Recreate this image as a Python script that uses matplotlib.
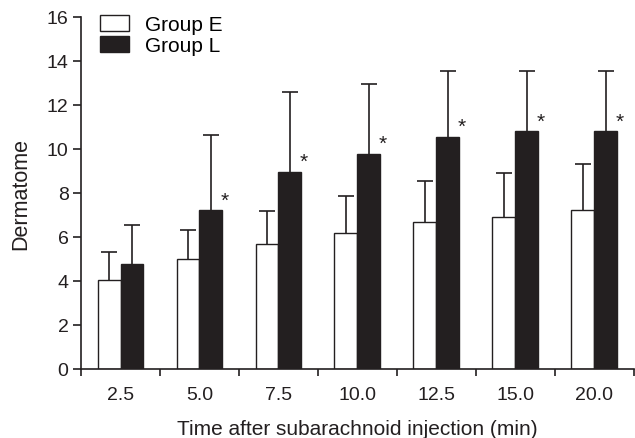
import numpy as np
import matplotlib.pyplot as plt

plt.rcParams['font.family'] = ['Liberation Sans', 'DejaVu Sans']

times = ['2.5', '5.0', '7.5', '10.0', '12.5', '15.0', '20.0']
group_e = [4.05, 5.0, 5.7, 6.17, 6.67, 6.9, 7.23]
group_e_sd = [1.25, 1.32, 1.47, 1.69, 1.88, 2.0, 2.1]
group_l = [4.77, 7.23, 8.97, 9.79, 10.56, 10.83, 10.83]
group_l_sd = [1.78, 3.41, 3.63, 3.16, 3.0, 2.72, 2.72]
significant = [False, True, True, True, True, True, True]

dark = '#231f20'
x = np.arange(len(times))
w = 0.29

fig = plt.figure(figsize=(6.35, 4.39), dpi=100)
ax = fig.add_axes([0.1276, 0.1572, 0.8704, 0.8018])

err_kw = dict(ecolor=dark, elinewidth=1.2, capsize=6, capthick=1.2)
bars_e = ax.bar(x - w / 2, group_e, w, color='white', edgecolor=dark, linewidth=1.0,
                yerr=[np.zeros(len(x)), group_e_sd], error_kw=err_kw, label='Group E', zorder=2)
bars_l = ax.bar(x + w / 2, group_l, w, color=dark, edgecolor=dark, linewidth=1.0,
                yerr=[np.zeros(len(x)), group_l_sd], error_kw=err_kw, label='Group L', zorder=2)

# only the upper cap should be visible
for b in (bars_e, bars_l):
    caps = b.errorbar.lines[1]
    caps[0].set_visible(False)

# asterisks next to the black bars
for i in range(len(x)):
    if significant[i]:
        ax.text(x[i] + w + 0.03, group_l[i] + 0.45, '*', ha='center', va='center',
                fontsize=15, color=dark)

ax.set_xlim(-0.5, len(x) - 0.5)
ax.set_ylim(0, 16)
ax.set_yticks(range(0, 17, 2))
ax.set_xticks(x)
ax.set_xticklabels(times)
ax.set_xticks(np.arange(-0.5, len(x)), minor=True)
ax.tick_params(axis='x', which='major', length=0, pad=12, labelsize=14, colors=dark)
ax.tick_params(axis='x', which='minor', length=5, width=1.2, color=dark)
ax.tick_params(axis='y', length=6, width=1.2, labelsize=14, colors=dark, pad=3)

for s in ['top', 'right']:
    ax.spines[s].set_visible(False)
for s in ['left', 'bottom']:
    ax.spines[s].set_linewidth(1.2)
    ax.spines[s].set_color(dark)

ax.set_xlabel('Time after subarachnoid injection (min)', fontsize=15, color=dark, labelpad=12)
ax.set_ylabel('Dermatome', fontsize=15.5, color=dark, labelpad=11)

ax.legend(loc='upper left', bbox_to_anchor=(0.034, 1.005), frameon=False, fontsize=15,
          handlelength=1.4, handleheight=0.75, handletextpad=0.75, labelspacing=0.1,
          borderaxespad=0, borderpad=0)

fig.savefig('out.png', dpi=100)
